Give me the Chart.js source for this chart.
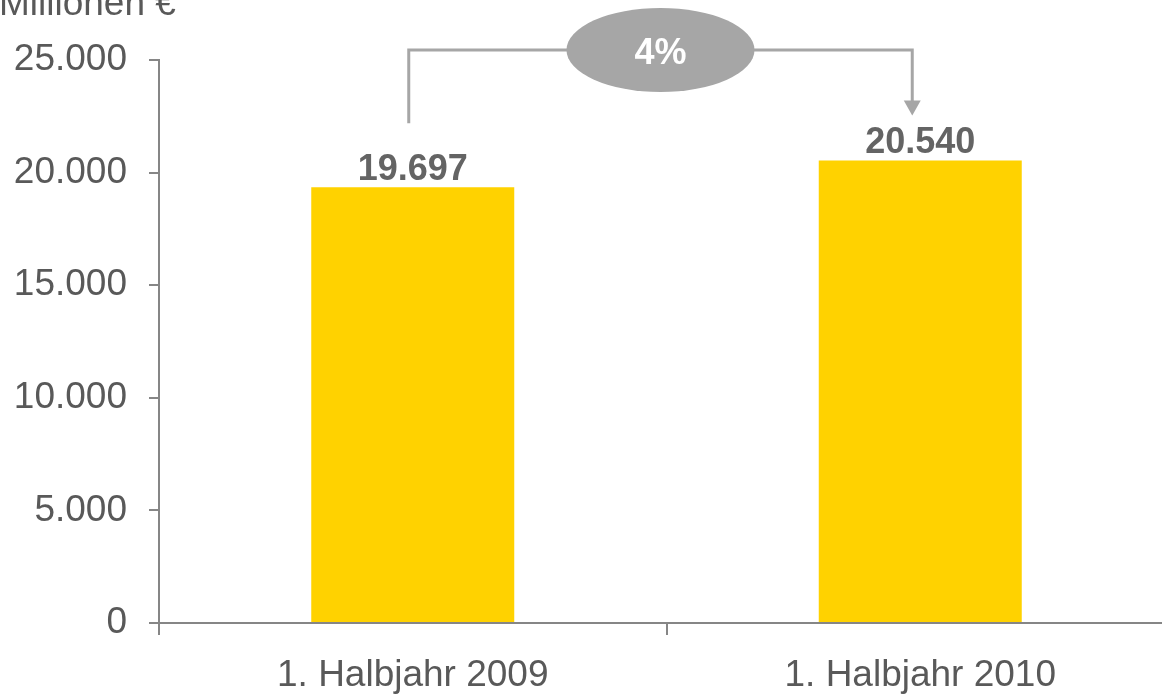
<!DOCTYPE html>
<html>
<head>
<meta charset="utf-8">
<script src="https://cdn.jsdelivr.net/npm/chart.js@4/dist/chart.umd.min.js"></script>
<style>
  html, body { margin: 0; padding: 0; background: #fff; overflow: hidden; }
  #wrap { position: relative; width: 1162px; height: 697px; overflow: hidden; }
  canvas { display: block; }
</style>
</head>
<body>
<div id="wrap"><canvas id="c" width="1180" height="697"></canvas></div>
<script>
// ---- data ----
const categories = ["1. Halbjahr 2009", "1. Halbjahr 2010"];
const barValues = [19350, 20540];          // bar heights as drawn in the picture
const valueLabels = ["19.697", "20.540"];  // value labels printed above the bars
const yTickValues = [0, 5000, 10000, 15000, 20000, 25000];
const yTickLabels = ["0", "5.000", "10.000", "15.000", "20.000", "25.000"];
const unitLabel = "Millionen €";
const changeLabel = "4%";

const FONT = "'Liberation Sans', Arial, Helvetica, sans-serif";
const TEXT = "#595959";
const AXIS = "#868686";
const GREY = "#A6A6A6";
const YELLOW = "#FFD200";

const overlay = {
  id: "overlay",
  afterDatasetsDraw(chart) {
    const ctx = chart.ctx;
    const meta = chart.getDatasetMeta(0);
    const b1 = meta.data[0], b2 = meta.data[1];
    const area = chart.chartArea;
    ctx.save();

    // value labels
    ctx.fillStyle = "#646464";
    ctx.font = "bold 36px " + FONT;
    ctx.textAlign = "center";
    ctx.textBaseline = "alphabetic";
    meta.data.forEach((bar, i) => {
      ctx.fillText(valueLabels[i], bar.x, bar.y - 7);
    });

    // unit label
    ctx.fillStyle = TEXT;
    ctx.font = "37px " + FONT;
    ctx.textAlign = "left";
    ctx.fillText(unitLabel, -1, 15);

    // change bracket
    const xl = b1.x - 4, xr = b2.x - 8;
    const yTop = area.top - 10;
    const yStart = b1.y - 64;
    const yTip = b2.y - 45;
    ctx.strokeStyle = GREY;
    ctx.lineWidth = 3;
    ctx.lineJoin = "miter";
    ctx.beginPath();
    ctx.moveTo(xl, yStart);
    ctx.lineTo(xl, yTop);
    ctx.lineTo(xr, yTop);
    ctx.lineTo(xr, yTip - 14);
    ctx.stroke();
    ctx.fillStyle = GREY;
    ctx.beginPath();
    ctx.moveTo(xr - 8.5, yTip - 15);
    ctx.lineTo(xr + 8.5, yTip - 15);
    ctx.lineTo(xr, yTip);
    ctx.closePath();
    ctx.fill();

    // ellipse with change
    const cx = (xl + xr) / 2;
    ctx.beginPath();
    ctx.ellipse(cx, yTop, 94, 42, 0, 0, Math.PI * 2);
    ctx.fill();
    ctx.fillStyle = "#FFFFFF";
    ctx.font = "bold 36px " + FONT;
    ctx.textAlign = "center";
    ctx.textBaseline = "alphabetic";
    ctx.fillText(changeLabel, cx, yTop + 14);

    ctx.restore();
  }
};

new Chart(document.getElementById("c"), {
  type: "bar",
  data: {
    labels: categories,
    datasets: [{
      data: barValues,
      backgroundColor: YELLOW,
      borderWidth: 0,
      categoryPercentage: 1,
      barPercentage: 0.4
    }]
  },
  options: {
    responsive: false,
    devicePixelRatio: 1,
    animation: false,
    layout: { padding: { top: 60, right: 6, left: 0, bottom: 0 } },
    plugins: { legend: { display: false }, tooltip: { enabled: false }, title: { display: false } },
    scales: {
      x: {
        offset: true,
        border: { display: true, color: AXIS, width: 2 },
        grid: { offset: true, drawOnChartArea: false, drawTicks: true, tickLength: 12, color: AXIS, lineWidth: 2 },
        ticks: { color: TEXT, font: { family: FONT, size: 37 }, padding: 19, maxRotation: 0 },
        afterFit(axis) { axis.height = 74; }
      },
      y: {
        min: 0,
        max: 25000,
        border: { display: true, color: AXIS, width: 2 },
        grid: { drawOnChartArea: false, drawTicks: true, tickLength: 10, color: AXIS, lineWidth: 2 },
        afterBuildTicks(axis) { axis.ticks = yTickValues.map(v => ({ value: v })); },
        ticks: {
          color: TEXT,
          font: { family: FONT, size: 37 },
          padding: 22,
          callback(value) { const i = yTickValues.indexOf(value); return i >= 0 ? yTickLabels[i] : ""; }
        },
        afterFit(axis) { axis.width = 159; }
      }
    }
  },
  plugins: [overlay]
});
</script>
</body>
</html>
